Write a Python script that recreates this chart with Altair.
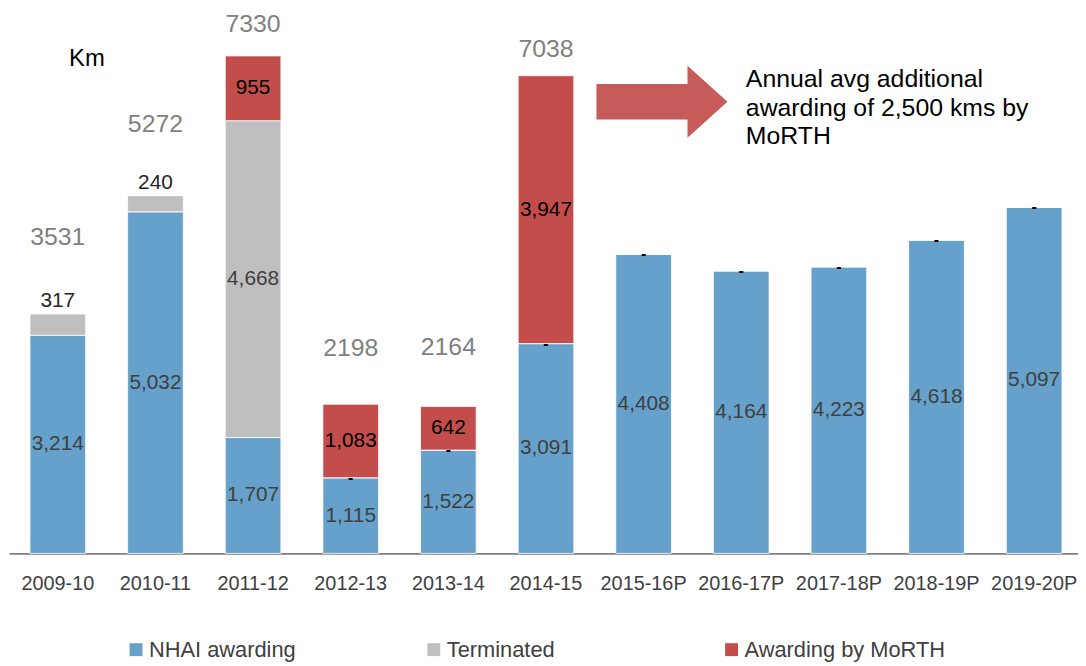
import altair as alt
import pandas as pd

# ---------------- data ----------------
years = ["2009-10", "2010-11", "2011-12", "2012-13", "2013-14", "2014-15",
         "2015-16P", "2016-17P", "2017-18P", "2018-19P", "2019-20P"]
nhai = [3214, 5032, 1707, 1115, 1522, 3091, 4408, 4164, 4223, 4618, 5097]
terminated = [317, 240, 4668, 0, 0, 0, 0, 0, 0, 0, 0]
morth = [0, 0, 955, 1083, 642, 3947, 0, 0, 0, 0, 0]
total_years = ["2009-10", "2010-11", "2011-12", "2012-13", "2013-14", "2014-15"]
totals = [3531, 5272, 7330, 2198, 2164, 7038]
series_names = ["NHAI awarding", "Terminated", "Awarding by MoRTH"]
unit_label = "Km"
annotation_lines = ["Annual avg additional", "awarding of 2,500 kms by", "MoRTH"]
annotation_year = "2015-16P"
annotation_text_km = 7166
annotation_arrow_km = 6654

# ---------------- layout / style ----------------
W, H, DMAX = 1078, 547, 8000
PX = H / DMAX  # pixels per km
colors = ["#65A1CA", "#BFBFBF", "#C24D4A"]
arrow_color = "#C55C5A"
FONT = "Liberation Sans"
total_offsets_px = [77, 72, 32, 57, 60, 27]

# ---------------- tables ----------------
rows = []
for i, y in enumerate(years):
    base = 0
    for name, vals in zip(series_names, [nhai, terminated, morth]):
        v = vals[i]
        rows.append({"year": y, "series": name, "y0": base, "y1": base + v, "v": v})
        base += v
bars_df = pd.DataFrame(rows)

fmt = lambda v: f"{v:,}"

nhai_lab = pd.DataFrame({"year": years, "pos": [v / 2 for v in nhai],
                         "txt": [fmt(v) for v in nhai]})

term_rows = []
for y, n, t in zip(years, nhai, terminated):
    if t > 0:
        if t < 1000:
            term_rows.append({"year": y, "pos": n + t + 13 / PX, "txt": fmt(t), "c": "#262626"})
        else:
            term_rows.append({"year": y, "pos": n + t / 2, "txt": fmt(t), "c": "#404040"})
term_lab = pd.DataFrame(term_rows)

morth_lab = pd.DataFrame([{"year": y, "pos": n + t + m / 2, "txt": fmt(m)}
                          for y, n, t, m in zip(years, nhai, terminated, morth) if m > 0])

dash_lab = pd.DataFrame([{"year": y, "pos": n, "txt": "-"}
                         for y, n, t in zip(years, nhai, terminated) if t == 0])

tot_lab = pd.DataFrame({"year": total_years,
                        "pos": [t + o / PX for t, o in zip(totals, total_offsets_px)],
                        "txt": [str(t) for t in totals]})

ann_df = pd.DataFrame({"year": [annotation_year], "pos": [annotation_text_km],
                       "txt": [annotation_lines]})
arrow_df = pd.DataFrame({"year": [annotation_year], "pos": [annotation_arrow_km]})

# ---------------- scales ----------------
xscale = alt.Scale(domain=years, range=[1, 1083], paddingInner=0.43, paddingOuter=0.215)
yscale = alt.Scale(domain=[0, DMAX], nice=False, zero=True)

x_axis = alt.Axis(title=None, labelFont=FONT, labelFontSize=20, labelColor="#404040",
                  labelPadding=20, ticks=False, tickSize=0, domainColor="#7F7F7F",
                  domainWidth=2, labelAngle=0, grid=False, labelOverlap=False)
y_axis = alt.Axis(title=unit_label, domain=False, labels=False, ticks=False, grid=False,
                  titleAngle=0, titleX=79, titleY=48, titleAlign="center",
                  titleBaseline="middle", titleFont=FONT, titleFontSize=24,
                  titleFontWeight="normal", titleColor="#000000")

X = lambda: alt.X("year:N", sort=years, scale=xscale, axis=x_axis)
Y = lambda: alt.Y("pos:Q", scale=yscale, axis=y_axis)

bars = alt.Chart(bars_df).mark_bar(stroke="white", strokeWidth=0.8).encode(
    x=X(),
    y=alt.Y("y0:Q", scale=yscale, axis=y_axis),
    y2="y1:Q",
    color=alt.Color("series:N", sort=series_names,
                    scale=alt.Scale(domain=series_names, range=colors),
                    legend=alt.Legend(title=None, orient="none", legendX=118, legendY=633,
                                      direction="horizontal", columns=3, gridAlign="all",
                                      columnPadding=73, symbolType="square",
                                      symbolSize=169, symbolStrokeWidth=0, labelOffset=2,
                                      labelFont=FONT, labelFontSize=22, labelLimit=400,
                                      labelColor="#404040")),
)

def text_layer(df, size, color, **kw):
    return alt.Chart(df).mark_text(font=FONT, fontSize=size, color=color,
                                   baseline="middle", **kw).encode(x=X(), y=Y(), text="txt:N")

nhai_text = text_layer(nhai_lab, 21, "#404040")
term_text = alt.Chart(term_lab).mark_text(font=FONT, fontSize=21, baseline="middle").encode(
    x=X(), y=Y(), text="txt:N", color=alt.Color("c:N", scale=None))
morth_text = text_layer(morth_lab, 21, "#000000")
dash_text = text_layer(dash_lab, 16, "#000000", fontWeight="bold")
tot_text = text_layer(tot_lab, 25, "#808080")
ann_text = alt.Chart(ann_df).mark_text(font=FONT, fontSize=25, color="#000000",
                                       align="left", baseline="top", dx=103,
                                       lineHeight=29).encode(x=X(), y=Y(), text="txt")
arrow = alt.Chart(arrow_df).mark_point(
    shape="M-0.72,-0.27 L0.67,-0.27 L0.67,-0.55 L1.28,0 L0.67,0.55 L0.67,0.27 L-0.72,0.27 Z",
    size=17424, filled=True, fill=arrow_color, color=arrow_color, strokeWidth=0, opacity=1,
).encode(x=X(), y=Y())

chart = alt.layer(bars, nhai_text, term_text, morth_text, dash_text, tot_text,
                  arrow, ann_text).properties(
    width=W, height=H,
    autosize=alt.AutoSizeParams(type="none"),
    padding={"left": 0, "top": 0, "right": 0, "bottom": 111},
).configure(font=FONT).configure_view(stroke=None)

chart.save("out.html", embed_options={"renderer": "svg", "actions": False})
